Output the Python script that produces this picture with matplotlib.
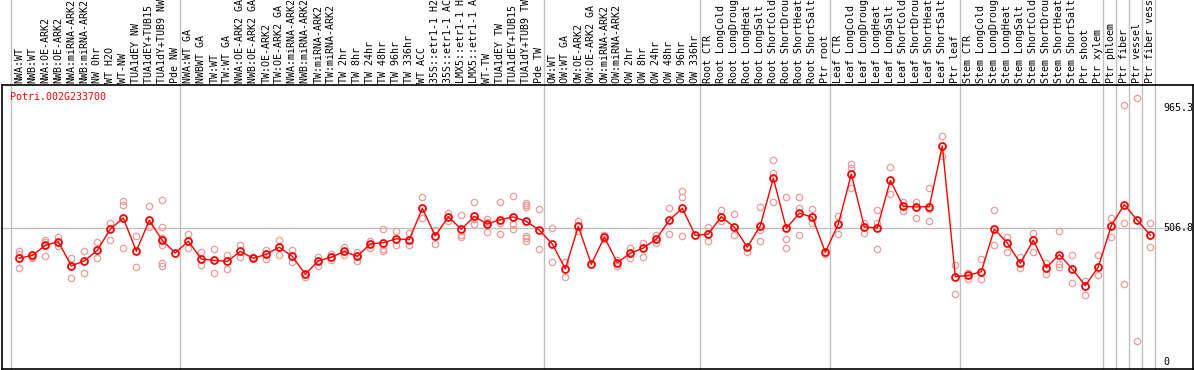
import numpy as np
import matplotlib
matplotlib.use("Agg")
import matplotlib.pyplot as plt
import matplotlib.transforms as mtrans

# sample labels, in plotting order
labels = [
    "NWA:WT", "NWB:WT", "NWA:OE-ARK2", "NWB:OE-ARK2", "NWA:miRNA-ARK2", "NWB:miRNA-ARK2",
    "NW 0hr", "WT H2O", "WT-NW", "TUA1dEY NW", "TUA1dEY+TUB15 NW", "TUA1dY+TUB9 NW", "Pde NW",
    "NWA:WT GA", "NWBWT GA", "TW:WT", "TW:WT GA", "NWA:OE-ARK2 GA", "NWB:OE-ARK2 GA",
    "TW:OE-ARK2", "TW:OE-ARK2 GA", "NWA:miRNA-ARK2 GA", "NWB:miRNA-ARK2 GA", "TW:miRNA-ARK2",
    "TW:miRNA-ARK2 GA", "TW 2hr", "TW 8hr", "TW 24hr", "TW 48hr", "TW 96hr", "TW 336hr",
    "WT ACC", "35S::etr1-1 H2O", "35S::etr1-1 ACC", "LMX5::etr1-1 H2O", "LMX5::etr1-1 ACC",
    "WT-TW", "TUA1dEY TW", "TUA1dEY+TUB15 TW", "TUA1dY+TUB9 TW", "Pde TW",
    "OW:WT", "OW:WT GA", "OW:OE-ARK2", "OW:OE-ARK2 GA", "OW:miRNA-ARK2", "OW:miRNA-ARK2 GA",
    "OW 2hr", "OW 8hr", "OW 24hr", "OW 48hr", "OW 96hr", "OW 336hr",
    "Root CTR", "Root LongCold", "Root LongDrought", "Root LongHeat", "Root LongSalt",
    "Root ShortCold", "Root ShortDrought", "Root ShortHeat", "Root ShortSalt", "Ptr root",
    "Leaf CTR", "Leaf LongCold", "Leaf LongDrought", "Leaf LongHeat", "Leaf LongSalt",
    "Leaf ShortCold", "Leaf ShortDrought", "Leaf ShortHeat", "Leaf ShortSalt", "Ptr leaf",
    "Stem CTR", "Stem LongCold", "Stem LongDrought", "Stem LongHeat", "Stem LongSalt",
    "Stem ShortCold", "Stem ShortDrought", "Stem ShortHeat", "Stem ShortSalt", "Ptr shoot",
    "Ptr xylem", "Ptr phloem", "Ptr fiber", "Ptr vessel", "Ptr fiber vessel",
]

# index where each sample group starts (plus end)
group_starts = [0, 13, 41, 53, 63, 73, 84, 85, 86, 87, 88]

# mean expression per sample
means = [
    393, 404, 442, 456, 364, 383, 423, 504, 546, 420, 537, 461, 413,
    458, 390, 385, 381, 419, 393, 408, 435, 400, 333, 383, 397, 419, 400, 448,
    452, 467, 464, 583, 478, 551, 503, 552, 523, 540, 550, 533, 500,
    447, 353, 514, 370, 473, 376, 412, 432, 466, 538, 583, 480,
    485, 551, 511, 435, 517, 697, 507, 564, 549, 416,
    523, 713, 512, 508, 689, 590, 588, 589, 820, 323,
    328, 342, 504, 451, 374, 462, 357, 407, 352, 289, 360,
    517, 597, 537, 481,
]

# individual replicates per sample
reps = [
    [420, 408, 357], [399, 393], [462, 455, 400], [475, 440], [393, 317], [420, 337],
    [455, 393], [527, 464], [611, 595, 431], [478, 359], [590, 511],
    [614, 511, 470, 442, 375, 364], [],
    [485, 431], [417, 366], [427, 338], [405, 353], [443, 397], [399], [424, 390],
    [461, 405], [424, 378], [322], [399, 364], [409, 386], [437, 407], [418, 383],
    [457, 432], [503, 427, 420], [498, 442], [488, 442], [626, 545], [500, 446],
    [566, 536], [556, 481, 473], [606, 542, 522], [543, 532, 494], [606, 527, 484],
    [630, 523, 503], [604, 595, 587, 478, 469, 460], [579, 427],
    [509, 378], [379, 323], [535, 497], [], [483, 467], [386, 364], [432, 393],
    [452, 397], [480, 452], [583, 484], [647, 627, 476], [],
    [513, 460], [576, 535], [561, 480], [417], [587, 500, 459], [766, 718, 606],
    [625, 465, 431], [625, 584, 481], [579, 528], [408],
    [555, 484], [750, 737, 659], [526, 488], [575, 526, 428], [739, 637],
    [608, 573], [607, 547], [659, 579, 535], [858, 782], [366, 257],
    [336, 314], [389, 314], [576, 442], [475, 416], [397, 357], [489, 416],
    [376, 332], [497, 371, 359], [407, 298], [307, 253], [407, 329],
    [547, 473], [975, 526, 295], [1003, 79], [526, 435],
]

ytick_vals = [0, 506.8, 965.3]
gene = "Potri.002G233700"

W, H = 1194, 370
fig = plt.figure(figsize=(W / 100, H / 100), dpi=100)
ax_l, ax_r, ax_t, ax_b = 1.5, 1192.7, 85, 369.3
ax = fig.add_axes([ax_l / W, (H - ax_b) / H, (ax_r - ax_l) / W, (ax_b - ax_t) / H])

mono = "DejaVu Sans Mono"
x = np.arange(len(means))

# replicates
for i, r in enumerate(reps):
    if r:
        ax.plot([i] * len(r), r, "o", ms=4.6, mfc="none", mec="#f09a9a", mew=0.9,
                zorder=2)

ax.plot(x, means, "-", color="red", lw=1, zorder=3)
ax.plot(x, means, "o", ms=5.0, mfc="none", mec="red", mew=1.3, zorder=4)

ax.set_xlim(-1.369, 90.26)
ax.set_ylim(-28.9, 1051.3)

# group separators reaching up through the label area
ymax_ext = ax_b / (ax_b - ax_t)
for g in group_starts:
    ax.axvline(g - 0.615, ymin=0, ymax=ymax_ext, color="#c0c0c0", lw=1,
               clip_on=False, zorder=1)
ax.axhline(506.8, color="#c0c0c0", lw=1, zorder=1)

for s in ax.spines.values():
    s.set_linewidth(1.2)
    s.set_color("black")
ax.set_xticks([])
ax.set_yticks([])

# rotated sample labels above the plot
trans = mtrans.blended_transform_factory(ax.transData, ax.transAxes)
offs = mtrans.offset_copy(trans, fig=fig, x=0, y=2, units="dots")
for i, lab in enumerate(labels):
    ax.text(i, 1, lab, transform=offs, rotation=90, ha="center", va="bottom",
            fontsize=7.2, family=mono, clip_on=False)

# right value labels
ytrans = mtrans.blended_transform_factory(fig.transFigure, ax.transData)
for v in ytick_vals:
    lab = "0" if v == 0 else f"{v:.1f}"
    ax.text(1163 / W, v, lab, transform=ytrans, ha="left", va="center",
            fontsize=7.2, family=mono)

fig.text(9.7 / W, (H - 97) / H, gene, color="red", fontsize=7.2, family=mono,
         ha="left", va="center")

fig.savefig("out.png", dpi=100)
